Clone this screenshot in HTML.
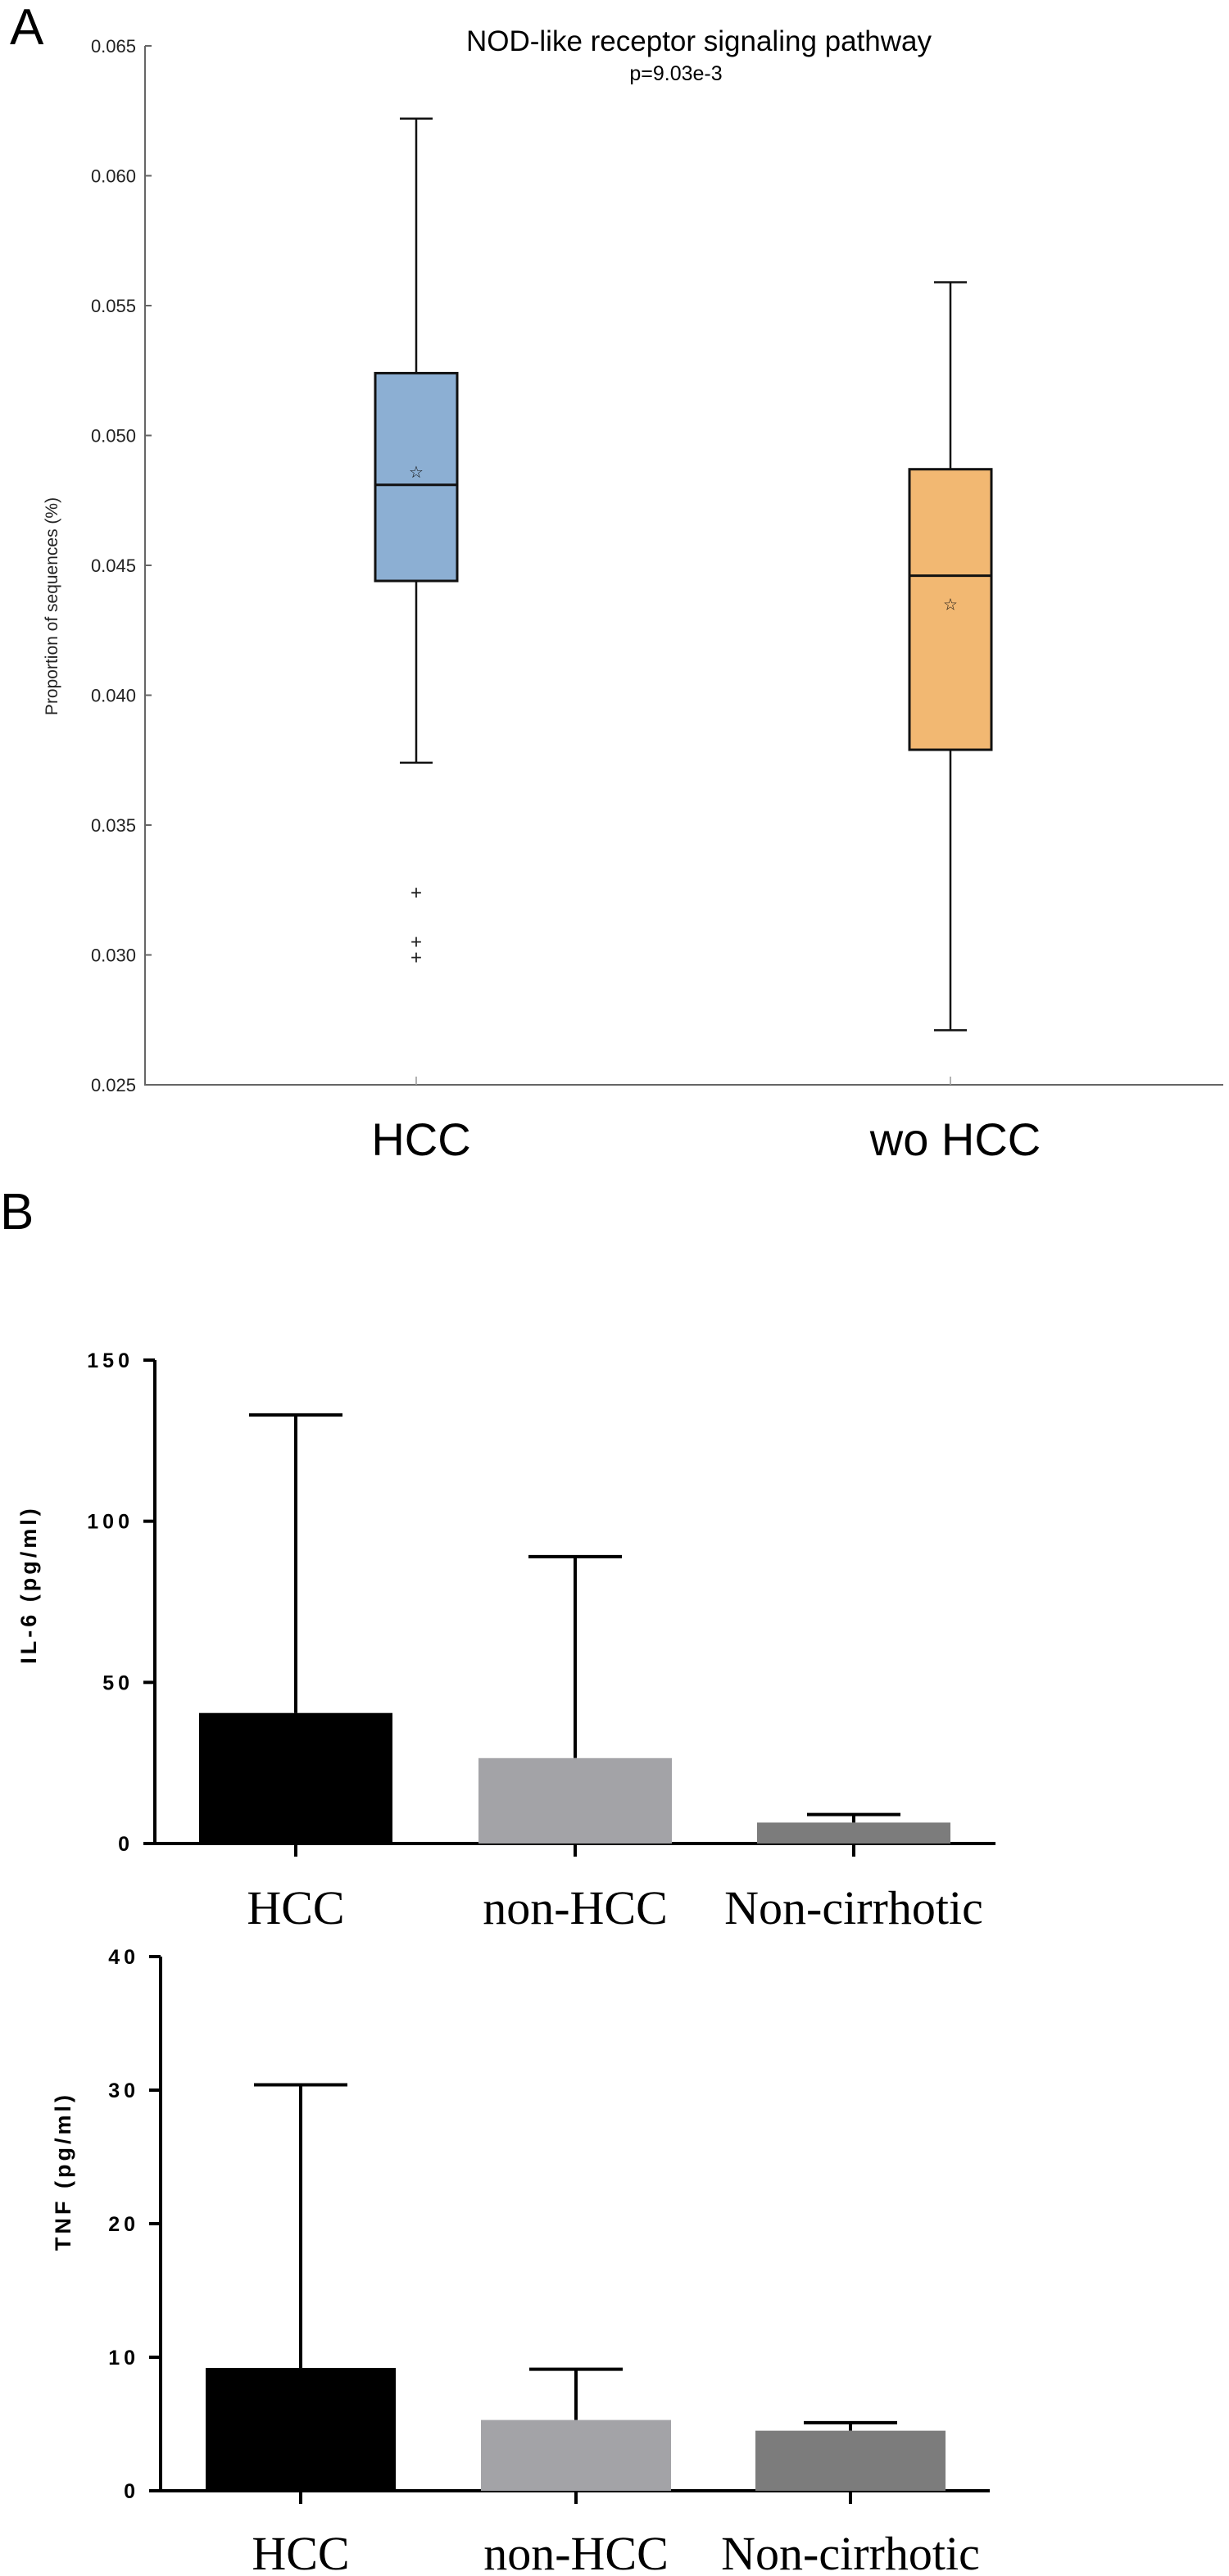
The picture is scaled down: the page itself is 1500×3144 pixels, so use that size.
<!DOCTYPE html>
<html><head><meta charset="utf-8"><style>
html,body{margin:0;padding:0;background:#fff;width:1500px;height:3144px;overflow:hidden}
svg{display:block}
</style></head><body>
<svg id="fig" width="1500" height="3144" viewBox="0 0 1500 3144" xmlns="http://www.w3.org/2000/svg" font-family="Liberation Sans, Arial, sans-serif">
<text x="12" y="54" font-size="62">A</text>
<text x="853" y="62" font-size="35" text-anchor="middle">NOD-like receptor signaling pathway</text>
<text x="825" y="98" font-size="25" text-anchor="middle">p=9.03e-3</text>
<text transform="translate(70,740) rotate(-90)" font-size="21" text-anchor="middle" fill="#222">Proportion of sequences (%)</text>
<g id="chartA"></g>
<text x="0" y="1500" font-size="62">B</text>
<g id="chartIL6"></g>
<g id="chartTNF"></g>
</svg>
<script>
const NS='http://www.w3.org/2000/svg';
// Panel A data
const boxCategories=['HCC','wo HCC'];
const boxWhiskerHigh=[0.0622,0.0559];
const boxQ3=[0.0524,0.0487];
const boxMedian=[0.0481,0.0446];
const boxMean=[0.0486,0.0435];
const boxQ1=[0.0444,0.0379];
const boxWhiskerLow=[0.0374,0.0271];
const boxOutliers=[[0.0324,0.0305,0.0299],[]];
const boxTicks=['0.025','0.030','0.035','0.040','0.045','0.050','0.055','0.060','0.065'];
// Panel B data
const barCategories=['HCC','non-HCC','Non-cirrhotic'];
const il6Means=[40.5,26.5,6.5];
const il6Errors=[133,89,9];
const il6Ticks=[0,50,100,150];
const tnfMeans=[9.2,5.3,4.5];
const tnfErrors=[30.4,9.1,5.1];
const tnfTicks=[0,10,20,30,40];

function el(tag,attrs,parent,text){const e=document.createElementNS(NS,tag);for(const k in attrs)e.setAttribute(k,attrs[k]);if(text!==undefined)e.textContent=text;parent.appendChild(e);return e;}

// ---- Chart A ----
(function(){
const g=document.getElementById('chartA');
const x0=177,x1=1493,yTop=56,yBot=1324,vmin=0.025,vmax=0.065;
const y=v=>yBot-(v-vmin)/(vmax-vmin)*(yBot-yTop);
const xc=i=>508+i*(1160-508);
const ax=el('path',{d:`M${x0} ${yTop}V${yBot}H${x1}`,fill:'none',stroke:'#666','stroke-width':2},g);

boxTicks.forEach(t=>{const v=parseFloat(t);
 const tk=el('line',{x1:x0,x2:x0+8,y1:y(v),y2:y(v),stroke:'#666','stroke-width':2},g);
 
 const tl=el('text',{x:166,y:y(v)+8,'font-size':22,'text-anchor':'end',fill:'#222'},g,t);
 });
const colors=['#8cafd3','#f2b872'];
boxCategories.forEach((c,i)=>{
 const cx=xc(i),hw=50;
 const bg=el('g',{},g);
 el('line',{x1:cx,x2:cx,y1:yBot,y2:yBot-10,stroke:'#999','stroke-width':1.5},bg);
 el('line',{x1:cx,x2:cx,y1:y(boxWhiskerHigh[i]),y2:y(boxQ3[i]),stroke:'#111','stroke-width':2.5},bg);
 el('line',{x1:cx,x2:cx,y1:y(boxQ1[i]),y2:y(boxWhiskerLow[i]),stroke:'#111','stroke-width':2.5},bg);
 el('line',{x1:cx-20,x2:cx+20,y1:y(boxWhiskerHigh[i]),y2:y(boxWhiskerHigh[i]),stroke:'#111','stroke-width':2.5},bg);
 el('line',{x1:cx-20,x2:cx+20,y1:y(boxWhiskerLow[i]),y2:y(boxWhiskerLow[i]),stroke:'#111','stroke-width':2.5},bg);
 el('rect',{x:cx-hw,y:y(boxQ3[i]),width:hw*2,height:y(boxQ1[i])-y(boxQ3[i]),fill:colors[i],stroke:'#111','stroke-width':3},bg);
 el('line',{x1:cx-hw,x2:cx+hw,y1:y(boxMedian[i]),y2:y(boxMedian[i]),stroke:'#111','stroke-width':3},bg);
 el('text',{x:cx,y:y(boxMean[i])+7,'font-size':20,'text-anchor':'middle',fill:'#111'},bg,'☆');
 boxOutliers[i].forEach(o=>{const p=el('text',{x:cx,y:y(o)+8,'font-size':24,'text-anchor':'middle',fill:'#222'},bg,'+');
  });
 const xl=el('text',{x:cx+6,y:1410,'font-size':56,'text-anchor':'middle'},g,c);
 
});
})();

// ---- Bar charts ----
function barChart(gid,name,means,errs,ticks,cfg){
 const g=document.getElementById(gid);
 const vmax=ticks[ticks.length-1];
 const y=v=>cfg.y0-v/vmax*(cfg.y0-cfg.yTop);
 const ax=el('path',{d:`M${cfg.ax} ${cfg.yTop}V${cfg.y0}H${cfg.axEnd}`,fill:'none',stroke:'#000','stroke-width':4},g);
 
 ticks.forEach(t=>{
  const tk=el('line',{x1:cfg.ax-14,x2:cfg.ax,y1:y(t),y2:y(t),stroke:'#000','stroke-width':4},g);
  
  const tl=el('text',{x:cfg.ax-26,y:y(t)+9,'font-size':25,'font-weight':'bold','letter-spacing':5,'text-anchor':'end'},g,String(t));
  
 });
 const fills=['#000','#a3a3a7','#7c7c7c'];
 barCategories.forEach((c,i)=>{
  const cx=cfg.xc[i],hw=cfg.bw/2;
  const cap=el('line',{x1:cx-57,x2:cx+57,y1:y(errs[i]),y2:y(errs[i]),stroke:'#000','stroke-width':4},g);
  
  const eb=el('line',{x1:cx,x2:cx,y1:y(errs[i]),y2:y(means[i]),stroke:'#000','stroke-width':4},g);
  
  const b=el('rect',{x:cx-hw,y:y(means[i]),width:cfg.bw,height:y(0)-y(means[i]),fill:fills[i]},g);
  
  el('line',{x1:cx,x2:cx,y1:cfg.y0,y2:cfg.y0+16,stroke:'#000','stroke-width':4},g);
  const xl=el('text',{x:cx,y:cfg.labY,'font-size':58,'text-anchor':'middle','font-family':'Liberation Serif, Times New Roman, serif'},g,c);
  
 });
 const tt=el('text',{transform:`translate(${cfg.titleX},${cfg.titleY}) rotate(-90)`,'font-size':27,'font-weight':'bold','letter-spacing':4,'text-anchor':'middle'},g,cfg.title);
 
}
barChart('chartIL6','il6',il6Means,il6Errors,il6Ticks,{ax:189,axEnd:1215,yTop:1660,y0:2250,xc:[361,702,1042],bw:236,labY:2348,title:'IL-6 (pg/ml)',titleX:44,titleY:1934});
barChart('chartTNF','tnf',tnfMeans,tnfErrors,tnfTicks,{ax:196,axEnd:1208,yTop:2388,y0:3040,xc:[367,703,1038],bw:232,labY:3136,title:'TNF (pg/ml)',titleX:86,titleY:2650});
</script>
</body></html>
